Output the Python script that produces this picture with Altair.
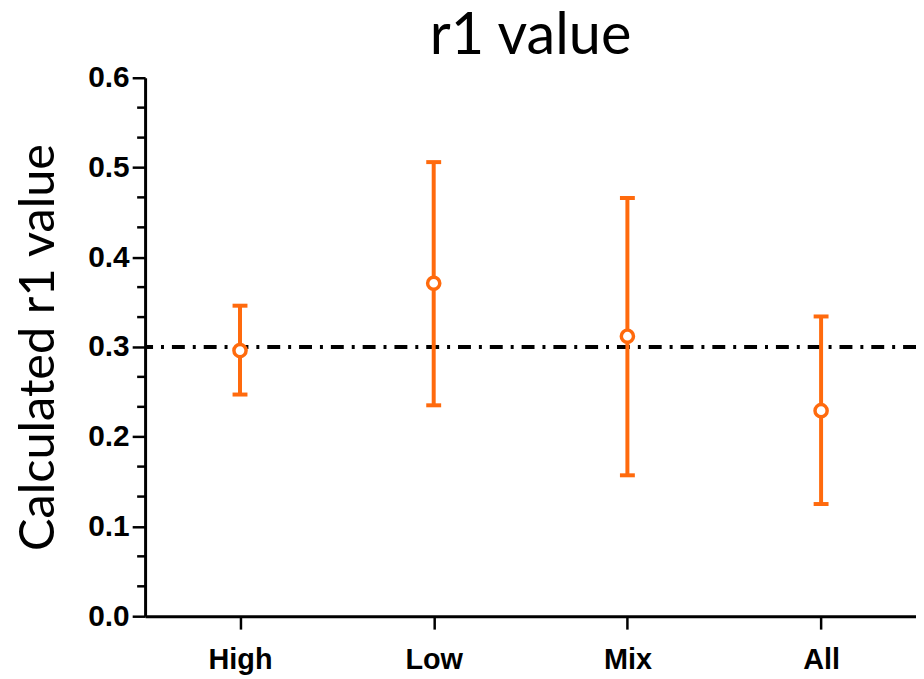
import altair as alt
import pandas as pd

groups = ["High", "Low", "Mix", "All"]
means = [0.296, 0.371, 0.312, 0.229]
upper = [0.346, 0.506, 0.466, 0.334]
lower = [0.247, 0.235, 0.157, 0.125]
reference_value = [0.3]
major_ticks = [0.0, 0.1, 0.2, 0.3, 0.4, 0.5, 0.6]
minor_ticks = [round(i / 30, 4) for i in range(19) if i % 3 != 0]

df = pd.DataFrame({"group": groups, "mean": means, "upper": upper, "lower": lower})
ref_df = pd.DataFrame({"ref": reference_value})
minor_df = pd.DataFrame({"m": minor_ticks})

ORANGE = "#FF6A0D"

x_enc = alt.X(
    "group:N",
    sort=groups,
    scale=alt.Scale(type="point", padding=0.49),
    axis=alt.Axis(
        title=None,
        labelAngle=0,
        labelFont="Liberation Sans",
        labelFontWeight="bold",
        labelFontSize=29,
        labelColor="black",
        labelPadding=17,
        tickSize=13,
        tickWidth=2.5,
        tickColor="black",
        domainColor="black",
        domainWidth=3,
        grid=False,
    ),
)

y_scale = alt.Scale(domain=[0, 0.6], nice=False, zero=True)

y_enc = alt.Y(
    "mean:Q",
    scale=y_scale,
    axis=alt.Axis(
        title="Calculated r1 value",
        titleFont="Lato",
        titleFontSize=49,
        titleFontWeight="normal",
        titleColor="black",
        titleAngle=270,
        titleAlign="center",
        titleBaseline="middle",
        titleX=-107,
        titleY=271,
        values=major_ticks,
        format=".1f",
        labelFont="Liberation Sans",
        labelFontWeight="bold",
        labelFontSize=30,
        labelColor="black",
        labelPadding=3,
        tickSize=13,
        tickWidth=2.5,
        tickColor="black",
        domainColor="black",
        domainWidth=3,
        grid=False,
    ),
)

base = alt.Chart(df)

rules = base.mark_rule(color=ORANGE, strokeWidth=4, opacity=1).encode(
    x=x_enc, y=alt.Y("lower:Q", scale=y_scale), y2="upper:Q"
)
caps_top = base.mark_tick(color=ORANGE, thickness=4, size=15, orient="horizontal", opacity=1).encode(
    x=alt.X("group:N", sort=groups), y=alt.Y("upper:Q", scale=y_scale)
)
caps_bot = base.mark_tick(color=ORANGE, thickness=4, size=15, orient="horizontal", opacity=1).encode(
    x=alt.X("group:N", sort=groups), y=alt.Y("lower:Q", scale=y_scale)
)

ref_line = alt.Chart(ref_df).mark_rule(
    color="black", strokeWidth=4, strokeDash=[13, 8, 3, 8]
).encode(y=alt.Y("ref:Q", scale=y_scale))

points = base.mark_point(
    shape="circle", filled=False, fill="white", fillOpacity=1,
    stroke=ORANGE, strokeWidth=3.5, size=150, opacity=1
).encode(x=alt.X("group:N", sort=groups), y=y_enc)

minor = alt.Chart(minor_df).mark_rule(color="black", strokeWidth=2.5).encode(
    y=alt.Y("m:Q", scale=y_scale), x=alt.value(-8), x2=alt.value(0)
)

chart = alt.layer(ref_line, rules, caps_top, caps_bot, points, minor).properties(
    width=776,
    height=542,
    background="white",
    title=alt.TitleParams(
        "r1 value", font="Lato", fontSize=58, fontWeight="normal",
        color="black", anchor="middle", offset=-3,
    ),
    autosize=alt.AutoSizeParams(type="none"),
    padding={"left": 138, "top": 68, "right": 0, "bottom": 61},
).configure_view(stroke=None)

chart.save("out.html", embed_options={"renderer": "svg", "actions": False})
